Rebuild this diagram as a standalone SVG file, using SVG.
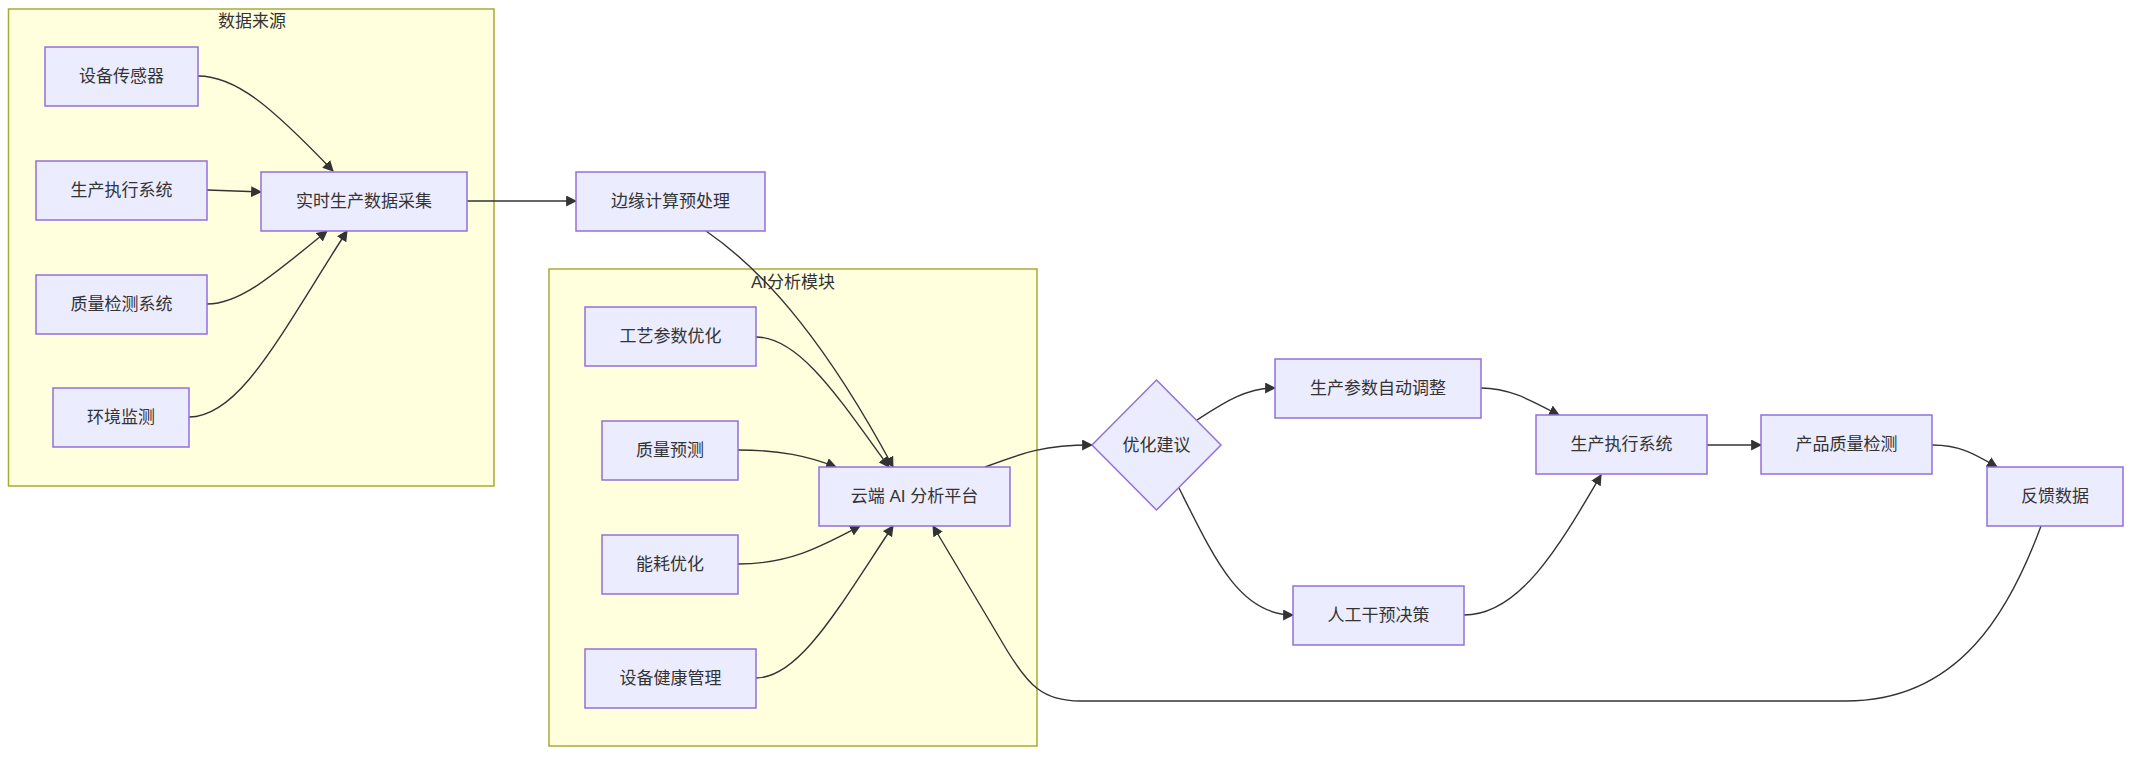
<svg xmlns="http://www.w3.org/2000/svg" width="2133" height="780" viewBox="0 0 2133 780">
<defs>
<style>
.cluster rect{fill:#ffffde;stroke:#aaaa33;stroke-width:1.5}
.node rect,.node polygon{fill:#ececff;stroke:#9370db;stroke-width:1.5}
text{font-family:"Liberation Sans","Noto Sans CJK SC",sans-serif;font-size:17px;fill:#333;text-anchor:middle;dominant-baseline:central}
.edge path{fill:none;stroke:#333;stroke-width:1.4}
</style>
<marker id="arr" viewBox="0 0 10 10" refX="9" refY="5" markerUnits="userSpaceOnUse" markerWidth="11" markerHeight="11" orient="auto">
<path d="M0,0 L10,5 L0,10 z" fill="#333"/>
</marker>
</defs>
<rect width="2133" height="780" fill="#ffffff"/>
<g id="cluster-sources" class="cluster"><rect x="8.5" y="9" width="485.5" height="477"/><text x="252" y="21">数据来源</text></g>
<g id="cluster-ai" class="cluster"><rect x="549" y="269" width="488" height="477"/><text x="793" y="282">AI分析模块</text></g>
<g id="edges" class="edge">
<path marker-end="url(#arr)" d="M198,76 C235,76 270,105 333,171"/>
<path marker-end="url(#arr)" d="M207,190 L261,192"/>
<path marker-end="url(#arr)" d="M207,304 C240,304 272,276 327,231"/>
<path marker-end="url(#arr)" d="M189,417 C240,417 280,335 347,231"/>
<path marker-end="url(#arr)" d="M467,201 L576,201"/>
<path marker-end="url(#arr)" d="M706,231 C770,275 830,350 893,467"/>
<path marker-end="url(#arr)" d="M756,337 C800,337 840,400 889,467"/>
<path marker-end="url(#arr)" d="M738,450 C780,450 808,456 836,467"/>
<path marker-end="url(#arr)" d="M738,564 C790,564 822,546 860,526"/>
<path marker-end="url(#arr)" d="M756,678 C800,678 840,605 893,526"/>
<path marker-end="url(#arr)" d="M985,467 C1025,452 1045,445 1092,445"/>
<path marker-end="url(#arr)" d="M1197,420 C1222,404 1245,388 1275,388"/>
<path marker-end="url(#arr)" d="M1179,488 C1215,560 1240,615 1293,615"/>
<path marker-end="url(#arr)" d="M1481,388 C1510,388 1532,401 1559,415"/>
<path marker-end="url(#arr)" d="M1464,615 C1520,615 1560,545 1601,475"/>
<path marker-end="url(#arr)" d="M1707,445 L1761,445"/>
<path marker-end="url(#arr)" d="M1932,445 C1960,445 1975,454 1997,467"/>
<path marker-end="url(#arr)" d="M2041,526 C2010,610 1960,701 1846,701 L1080,701 C1042,701 1028,684 1008,652 L933,526"/>
</g>
<g id="n-sensor" class="node"><rect x="45" y="47" width="153" height="59"/><text x="121.5" y="76.5">设备传感器</text></g>
<g id="n-mes1" class="node"><rect x="36" y="161" width="171" height="59"/><text x="121.5" y="190.5">生产执行系统</text></g>
<g id="n-qc" class="node"><rect x="36" y="275" width="171" height="59"/><text x="121.5" y="304.5">质量检测系统</text></g>
<g id="n-env" class="node"><rect x="53" y="388" width="136" height="59"/><text x="121" y="417.5">环境监测</text></g>
<g id="n-collect" class="node"><rect x="261" y="172" width="206" height="59"/><text x="364" y="201.5">实时生产数据采集</text></g>
<g id="n-edge" class="node"><rect x="576" y="172" width="189" height="59"/><text x="670.5" y="201.5">边缘计算预处理</text></g>
<g id="n-process" class="node"><rect x="585" y="307" width="171" height="59"/><text x="670.5" y="336.5">工艺参数优化</text></g>
<g id="n-qpred" class="node"><rect x="602" y="421" width="136" height="59"/><text x="670" y="450.5">质量预测</text></g>
<g id="n-energy" class="node"><rect x="602" y="535" width="136" height="59"/><text x="670" y="564.5">能耗优化</text></g>
<g id="n-health" class="node"><rect x="585" y="649" width="171" height="59"/><text x="670.5" y="678.5">设备健康管理</text></g>
<g id="n-cloud" class="node"><rect x="819" y="467" width="191" height="59"/><text x="914.5" y="496.5">云端 AI 分析平台</text></g>
<g id="n-suggest" class="node"><polygon points="1156.5,380 1221,445 1156.5,510 1092,445"/><text x="1156.5" y="445">优化建议</text></g>
<g id="n-auto" class="node"><rect x="1275" y="359" width="206" height="59"/><text x="1378" y="388.5">生产参数自动调整</text></g>
<g id="n-manual" class="node"><rect x="1293" y="586" width="171" height="59"/><text x="1378.5" y="615.5">人工干预决策</text></g>
<g id="n-mes2" class="node"><rect x="1536" y="415" width="171" height="59"/><text x="1621.5" y="444.5">生产执行系统</text></g>
<g id="n-pqc" class="node"><rect x="1761" y="415" width="171" height="59"/><text x="1846.5" y="444.5">产品质量检测</text></g>
<g id="n-feedback" class="node"><rect x="1987" y="467" width="136" height="59"/><text x="2055" y="496.5">反馈数据</text></g>
</svg>
